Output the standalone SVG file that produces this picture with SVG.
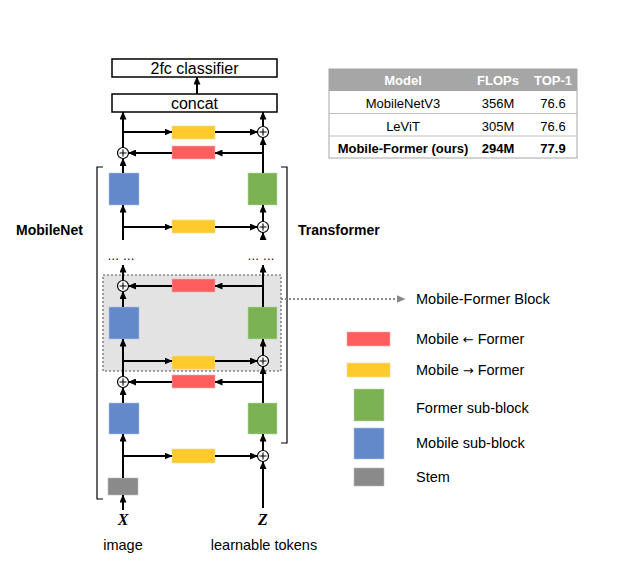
<svg xmlns="http://www.w3.org/2000/svg" width="625" height="570" viewBox="0 0 625 570">
<style>
text{font-family:"Liberation Sans",Arial,sans-serif;fill:#000}
.box{fill:#fff;stroke:#000;stroke-width:1.5}
.red{fill:#ff5e5e;stroke:#e8b0b0;stroke-width:0.6}
.yel{fill:#ffca2b;stroke:#e8d9a0;stroke-width:0.6}
.grn{fill:#7bb254;stroke:#b8d6a8;stroke-width:0.6}
.blu{fill:#6389cb;stroke:#b0c2e0;stroke-width:0.6}
.stem{fill:#8a8a8a;stroke:#bdbdbd;stroke-width:0.6}
.c line{stroke:#000;stroke-width:2;marker-end:url(#ah)}
.lbl{font-size:14.5px}
.arr{font-family:"DejaVu Sans",sans-serif;font-size:13px}
.bold{font-weight:bold;font-size:14px}
.tbl{font-size:13px;text-anchor:middle}
</style>
<defs>
<marker id="ah" markerUnits="userSpaceOnUse" markerWidth="8" markerHeight="7" refX="7.5" refY="3.5" orient="auto">
<path d="M0,0 L8,3.5 L0,7 z" fill="#000"/>
</marker>
<marker id="ahg" markerUnits="userSpaceOnUse" markerWidth="9" markerHeight="8" refX="8.5" refY="4" orient="auto">
<path d="M0,0 L9,4 L0,8 z" fill="#888"/>
</marker>
<g id="pl"><circle r="5.5" fill="#fff" stroke="#000" stroke-width="1.2"/><path d="M-3.5,0 H3.5 M0,-3.5 V3.5" stroke="#000" stroke-width="1.1" fill="none"/></g>
</defs>
<rect width="625" height="570" fill="#fff"/>

<g id="mf-block">
<rect x="103" y="275" width="178" height="96" fill="#e3e3e3" stroke="#888" stroke-width="1.6" stroke-dasharray="2,2"/>
</g>

<g id="brackets" fill="none" stroke="#000" stroke-width="1.2">
<path d="M103,167 H97 V499 H103"/>
<path d="M281,167 H287 V443 H281"/>
</g>

<g id="classifier"><rect class="box" x="112" y="59" width="165" height="18"/><text x="194.5" y="74" font-size="16" text-anchor="middle">2fc classifier</text></g>
<g id="concat"><rect class="box" x="112" y="94" width="165" height="18"/><text x="194.5" y="109" font-size="16" text-anchor="middle">concat</text></g>

<g id="y1"><rect class="yel" x="172" y="126" width="43" height="13"/></g>
<g id="r1"><rect class="red" x="172" y="146" width="43" height="13"/></g>
<g id="y2"><rect class="yel" x="172" y="220" width="43" height="13"/></g>
<g id="r2"><rect class="red" x="172" y="279" width="43" height="13"/></g>
<g id="y3"><rect class="yel" x="172" y="356" width="43" height="13"/></g>
<g id="r3"><rect class="red" x="172" y="375" width="43" height="13"/></g>
<g id="y4"><rect class="yel" x="172" y="449" width="43" height="14"/></g>

<g id="b1"><rect class="blu" x="109" y="173" width="30" height="32"/></g>
<g id="g1"><rect class="grn" x="248" y="173" width="29" height="32"/></g>
<g id="b2"><rect class="blu" x="109" y="307" width="30" height="32"/></g>
<g id="g2"><rect class="grn" x="248" y="307" width="29" height="32"/></g>
<g id="b3"><rect class="blu" x="109" y="403" width="30" height="31"/></g>
<g id="g3"><rect class="grn" x="248" y="403" width="29" height="31"/></g>
<g id="stem"><rect class="stem" x="108" y="478" width="30" height="17"/></g>

<g id="connectors" class="c">
<line x1="197" y1="94" x2="197" y2="77"/>
<line x1="123" y1="147.5" x2="123" y2="112"/>
<line x1="123" y1="132" x2="172" y2="132"/>
<line x1="215" y1="132" x2="257.5" y2="132"/>
<line x1="263" y1="126.5" x2="263" y2="112"/>
<line x1="263" y1="173" x2="263" y2="137.5"/>
<line x1="263" y1="153" x2="215" y2="153"/>
<line x1="172" y1="153" x2="128.5" y2="153"/>
<line x1="123" y1="173" x2="123" y2="158.5"/>

<line x1="123" y1="240" x2="123" y2="205"/>
<line x1="123" y1="227" x2="172" y2="227"/>
<line x1="215" y1="227" x2="257.5" y2="227"/>
<line x1="263" y1="240" x2="263" y2="232.5"/>
<line x1="263" y1="221.5" x2="263" y2="205"/>

<line x1="123" y1="280.5" x2="123" y2="265"/>
<line x1="263" y1="307" x2="263" y2="265"/>
<line x1="263" y1="286" x2="215" y2="286"/>
<line x1="172" y1="286" x2="128.5" y2="286"/>
<line x1="123" y1="307" x2="123" y2="291.5"/>
<line x1="123" y1="376.5" x2="123" y2="339"/>
<line x1="123" y1="361" x2="172" y2="361"/>
<line x1="215" y1="361" x2="257.5" y2="361"/>
<line x1="263" y1="355.5" x2="263" y2="339"/>
<line x1="263" y1="403" x2="263" y2="366.5"/>
<line x1="263" y1="382" x2="215" y2="382"/>
<line x1="172" y1="382" x2="128.5" y2="382"/>
<line x1="123" y1="403" x2="123" y2="387.5"/>

<line x1="123" y1="478" x2="123" y2="434"/>
<line x1="123" y1="456" x2="172" y2="456"/>
<line x1="215" y1="456" x2="257.5" y2="456"/>
<line x1="263" y1="450.5" x2="263" y2="434"/>
<line x1="263" y1="508" x2="263" y2="461.5"/>
<line x1="123" y1="510" x2="123" y2="495"/>
<line x1="281" y1="299" x2="405" y2="299" style="stroke:#888;stroke-width:2;stroke-dasharray:2,2;marker-end:url(#ahg)"/>
</g>

<g id="adders">
<use href="#pl" x="123" y="153"/>
<use href="#pl" x="263" y="132"/>
<use href="#pl" x="263" y="227"/>
<use href="#pl" x="123" y="286"/>
<use href="#pl" x="263" y="361"/>
<use href="#pl" x="123" y="382"/>
<use href="#pl" x="263" y="456"/>
</g>

<g id="dots">
<text x="121" y="260" font-size="12" text-anchor="middle">… …</text>
<text x="261" y="260" font-size="12" text-anchor="middle">… …</text>
</g>

<g id="labels">
<text class="bold" x="16" y="235">MobileNet</text>
<text class="bold" x="298" y="235">Transformer</text>
<text x="123" y="525" font-style="italic" font-weight="bold" font-size="16" text-anchor="middle" style="font-family:'Liberation Serif',serif">X</text>
<text x="263" y="525" font-style="italic" font-weight="bold" font-size="16" text-anchor="middle" style="font-family:'Liberation Serif',serif">Z</text>
<text class="lbl" x="123" y="550" text-anchor="middle">image</text>
<text class="lbl" x="264" y="550" text-anchor="middle">learnable tokens</text>
<text class="lbl" x="416" y="304">Mobile-Former Block</text>
</g>

<g id="legend">
<rect class="red" x="347" y="332" width="43" height="14"/>
<text class="lbl" x="416" y="344">Mobile <tspan class="arr">←</tspan> Former</text>
<rect class="yel" x="347" y="363" width="43" height="14"/>
<text class="lbl" x="416" y="375">Mobile <tspan class="arr">→</tspan> Former</text>
<rect class="grn" x="354" y="389" width="30" height="32"/>
<text class="lbl" x="416" y="413">Former sub-block</text>
<rect class="blu" x="354" y="428" width="30" height="31"/>
<text class="lbl" x="416" y="448">Mobile sub-block</text>
<rect class="stem" x="354" y="468" width="30" height="18"/>
<text class="lbl" x="416" y="482">Stem</text>
</g>

<g id="table">
<rect x="329" y="69" width="248" height="22" fill="#a6a6a6"/>
<rect x="329" y="69" width="248" height="89" fill="none" stroke="#a6a6a6" stroke-width="1"/>
<line x1="329" y1="113.5" x2="577" y2="113.5" stroke="#bfbfbf" stroke-width="1"/>
<line x1="329" y1="136" x2="577" y2="136" stroke="#bfbfbf" stroke-width="1"/>
<text class="tbl" x="403" y="85" style="fill:#fff;font-weight:bold">Model</text>
<text class="tbl" x="498" y="85" style="fill:#fff;font-weight:bold">FLOPs</text>
<text class="tbl" x="553" y="85" style="fill:#fff;font-weight:bold">TOP-1</text>
<text class="tbl" x="403" y="108">MobileNetV3</text>
<text class="tbl" x="498" y="108">356M</text>
<text class="tbl" x="553" y="108">76.6</text>
<text class="tbl" x="403" y="131">LeViT</text>
<text class="tbl" x="498" y="131">305M</text>
<text class="tbl" x="553" y="131">76.6</text>
<text class="tbl" x="403" y="153" font-weight="bold">Mobile-Former (ours)</text>
<text class="tbl" x="498" y="153" font-weight="bold">294M</text>
<text class="tbl" x="553" y="153" font-weight="bold">77.9</text>
</g>
</svg>
